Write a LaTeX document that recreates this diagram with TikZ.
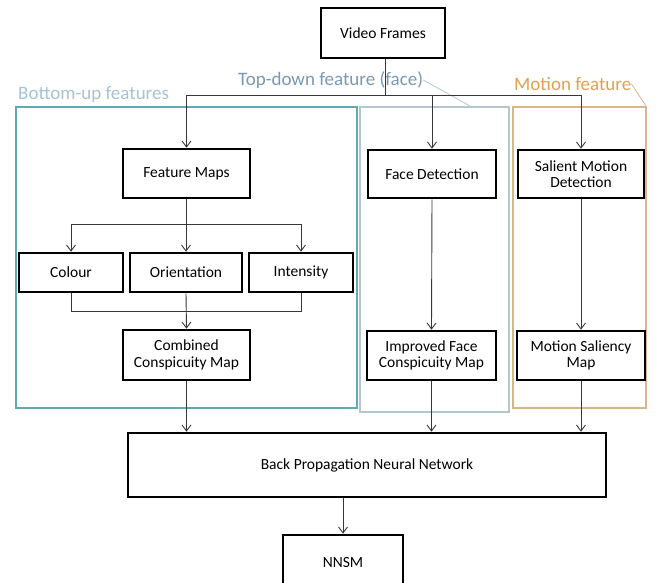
\documentclass[tikz,border=0pt]{standalone}
\usepackage{fontspec}
\setmainfont{Carlito}
\usetikzlibrary{arrows.meta}

\definecolor{bucol}{RGB}{95,170,180}
\definecolor{butxt}{RGB}{165,195,212}
\definecolor{tdcol}{RGB}{178,200,205}
\definecolor{tdtxt}{RGB}{120,152,182}
\definecolor{mocol}{RGB}{215,182,138}
\definecolor{motxt}{RGB}{226,160,78}
\definecolor{arrcol}{RGB}{55,55,55}

\tikzset{
  blk/.style={draw=black, line width=2.6pt, fill=white, align=center,
    inner sep=0pt, font=\fontsize{15.5}{16.5}\selectfont},
  arr/.style={draw=arrcol, line width=0.9pt, -{Straight Barb[length=6pt,width=9pt]}},
  ln/.style={draw=arrcol, line width=0.9pt},
  grp/.style={line width=1.2pt},
  grplab/.style={font=\fontsize{19}{20}\selectfont, inner sep=0pt}
}

\begin{document}
\begin{tikzpicture}[x=1pt,y=-1pt]

\useasboundingbox (0,0) rectangle (656,583);

% feature groups
\draw [grp, bucol] (16,107) rectangle (357,408);
\draw [grp, tdcol] (360,107) rectangle (509,412);
\draw [grp, mocol] (513,107) rectangle (646,408);
\node [grplab, butxt, anchor=west] (bulab) at (18,95) {Bottom-up features};
\node [grplab, tdtxt, anchor=west] (tdlab) at (238,80) {Top-down feature\ (face)};
\node [grplab, motxt, anchor=west] (molab) at (514,84) {Motion feature};
\coordinate (tdtip) at (470,106);
\coordinate (motip) at (646,106);
\draw [tdcol, line width=0.8pt] (tdlab.east) -- (tdtip);
\draw [mocol, line width=0.8pt] (molab.east) -- (motip);

% boxes
\node [blk, minimum width=124, minimum height=50] (vf) at (383,33) {Video Frames};
\node [blk, minimum width=127, minimum height=49] (fm) at (186.5,173.5) {Feature Maps};
\node [blk, minimum width=128, minimum height=48] (fd) at (432,174) {Face Detection};
\node [blk, minimum width=126, minimum height=48] (smd) at (581,174) {Salient Motion\\Detection};
\node [blk, minimum width=104, minimum height=39] (col) at (71,272.5) {Colour};
\node [blk, minimum width=112, minimum height=39] (ori) at (186,272.5) {Orientation};
\node [blk, minimum width=104, minimum height=39] (inten) at (301,272.5) {Intensity};
\node [blk, minimum width=127, minimum height=50] (ccm) at (186.5,355) {Combined\\Conspicuity Map};
\node [blk, minimum width=129, minimum height=49] (ifc) at (431.5,355.5) {Improved Face\\Conspicuity Map};
\node [blk, minimum width=128, minimum height=49] (msm) at (581,355.5) {Motion Saliency\\Map};
\node [blk, minimum width=478, minimum height=64] (bpnn) at (367,465) {Back Propagation Neural Network};
\node [blk, minimum width=120, minimum height=56] (nnsm) at (343,563) {NNSM};

% connectors
\coordinate (split) at (385,95);
\draw [ln] (vf.south -| split) -- (split);
\draw [arr] (split) -| (fm.north);
\draw [arr] (split) -| (fd.north);
\draw [arr] (split) -| (smd.north);

\coordinate (fmsplit) at (186.5,224);
\draw [ln] (fm.south) -- (fmsplit);
\draw [arr] (fmsplit) -| (col.north);
\draw [arr] (fmsplit) -| (ori.north);
\draw [arr] (fmsplit) -| (inten.north);

\coordinate (merge) at (186.5,311);
\draw [ln] (col.south) |- (merge);
\draw [ln] (inten.south) |- (merge);
\draw [arr] (ori.south) -- (ccm.north);

\draw [arr] (fd.south) -- (ifc.north);
\draw [arr] (smd.south) -- (msm.north);

\draw [arr] (ccm.south) -- (ccm.south |- bpnn.north);
\draw [arr] (ifc.south) -- (ifc.south |- bpnn.north);
\draw [arr] (msm.south) -- (msm.south |- bpnn.north);
\draw [arr] (bpnn.south -| nnsm.north) -- (nnsm.north);

\end{tikzpicture}
\end{document}
